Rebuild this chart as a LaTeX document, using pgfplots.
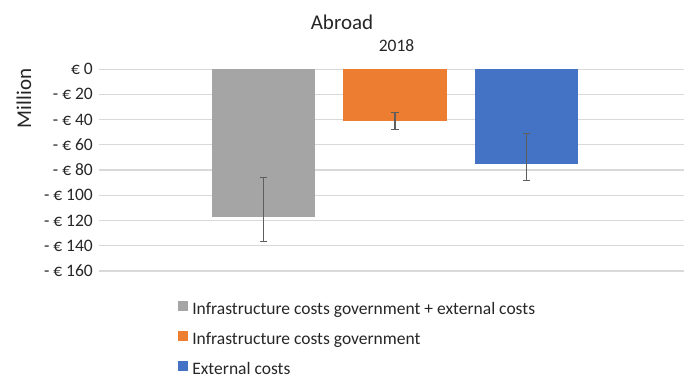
\documentclass[border=0pt]{standalone}
\usepackage{pgfplots}
\pgfplotsset{compat=1.18}
\usepackage{fontspec}
\setmainfont{Carlito}

\definecolor{cgray}{HTML}{A5A5A5}
\definecolor{corange}{HTML}{ED7D31}
\definecolor{cblue}{HTML}{4472C4}
\definecolor{gridc}{HTML}{D9D9D9}
\definecolor{txt}{HTML}{262626}
\definecolor{errc}{HTML}{5E5E5E}

\begin{document}
\begin{tikzpicture}[x=0.5714pt,y=0.5714pt]
\path[use as bounding box] (0,0) rectangle (684,378);
\begin{axis}[
    at={(56.57pt,61.14pt)}, anchor=south west,
    scale only axis,
    width=334.3pt, height=115.4pt,
    xmin=-2.251, xmax=2.198,
    ymin=-160, ymax=0,
    xtick=\empty,
    ytick={-160,-140,...,0},
    yticklabels={- € 160,- € 140,- € 120,- € 100,- € 80,- € 60,- € 40,- € 20,€ 0},
    yticklabel style={font=\fontsize{10}{12}\selectfont, text=txt},
    ymajorgrids,
    major grid style={draw=gridc, line width=0.6pt},
    axis line style={draw=none},
    tick style={draw=none},
    ybar, bar width=0.79,
    legend image code/.code={
        \fill[#1] (0pt,-0.5pt) rectangle (5.7pt,5.2pt);
        \path (8pt,0pt);
    },
    legend style={
        at={(0.135,-0.148)}, anchor=north west,
        draw=none, fill=none, inner sep=0pt,
        row sep=7.4pt,
        font=\fontsize{10}{12}\selectfont, text=txt,
        nodes={inner sep=0pt, text height=7pt, text depth=2pt},
    },
    legend cell align=left,
    error bars/y dir=both,
    error bars/y explicit,
    error bars/error bar style={line width=0.85pt, draw=errc},
    error bars/error mark options={rotate=90, mark size=2.2pt, line width=0.85pt, draw=errc},
]
\addplot[fill=cgray, draw=none, bar shift=0pt] coordinates {
    (-1,-117) += (0,31) -= (0,19.5)
};
\addlegendentry{Infrastructure costs government + external costs}
\addplot[fill=corange, draw=none, bar shift=0pt] coordinates {
    (0,-41.5) += (0,6.9) -= (0,6.3)
};
\addlegendentry{Infrastructure costs government}
\addplot[fill=cblue, draw=none, bar shift=0pt] coordinates {
    (1,-75) += (0,23.8) -= (0,13.2)
};
\addlegendentry{External costs}
\end{axis}
\node[font=\fontsize{12}{14}\selectfont, text=txt] at (342,356) {Abroad};
\node[font=\fontsize{10}{12}\selectfont, text=txt] at (396.5,332) {2018};
\node[font=\fontsize{12}{14}\selectfont, text=txt, rotate=90] at (24,279.5) {Million};
\end{tikzpicture}
\end{document}
